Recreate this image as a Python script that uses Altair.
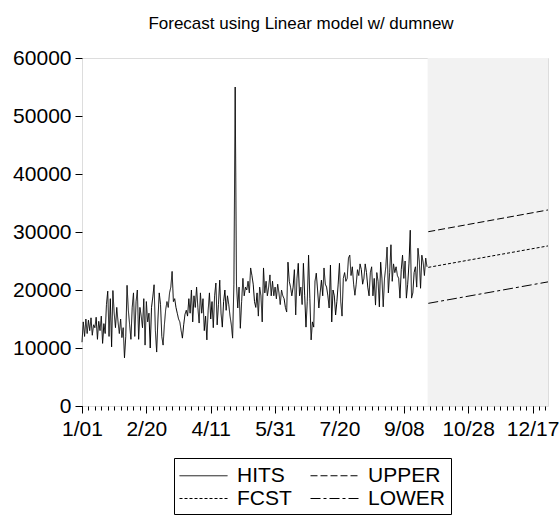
import json
import altair as alt
import pandas as pd

# ---- data ----
hits = [
    11000, 14500, 12000, 15000, 12500, 14800, 13000, 15200, 12200, 14000,
    13500, 15300, 11500, 14600, 13000, 15500, 10800, 14200, 12500, 17500,
    19800, 12000, 18500, 10200, 19900, 16000, 13500, 17000, 14500, 12500,
    15000, 11800, 13500, 8300, 12000, 20800, 16500, 14000, 11500, 17000,
    19500, 12000, 18000, 20000, 11500, 17000, 15500, 13500, 18500, 10500,
    18000, 14500, 16000, 10000, 17000, 18800, 20900, 13000, 9300, 15000,
    19500, 17500, 12000, 10500, 14000, 16600, 18000, 17000, 19500, 20500,
    23200, 18000, 18500, 17000, 16000, 15000, 14500, 13000, 11700, 14000,
    15800, 16500, 15500, 18500, 16000, 20000, 14500, 19000, 17000, 20500,
    17000, 14300, 19500, 16000, 18500, 13000, 15500, 11400, 16500, 19500,
    15000, 18000, 13500, 19000, 21200, 14000, 17500, 21700, 16000, 13600,
    18000, 20000, 16500, 19000, 17500, 15500, 14000, 11700, 21000, 55000,
    21000, 16900, 20500, 13400, 18000, 22000, 19000, 20500, 20000, 21500,
    19500, 23800, 22500, 21000, 18000, 17000, 19500, 15500, 20500, 19000,
    14500, 23800, 19500, 21500, 19000, 20500, 22600, 19000, 21500, 19000,
    20500, 18500, 21000, 19500, 17500, 20000, 19000, 18500, 17000, 16200,
    24800, 21500, 20500, 19000, 20500, 23500, 15700, 22000, 24600, 19000,
    20500, 17500, 24600, 19000, 13600, 18000, 26000, 18500, 11400, 14500,
    13600, 21500, 22900, 20000, 16900, 19500, 21700, 19000, 23800, 21000,
    20500, 19000, 16900, 24300, 14500, 20000, 19000, 15700, 18000, 21000,
    24600, 18000, 15500, 22000, 23000, 21500, 22000, 25500, 26000, 22500,
    24000, 21000, 19100, 21000, 23500, 22500, 24500, 23500, 21000, 22000,
    24500, 23000, 20500, 19000, 23000, 24000, 19000,
    22000, 17400, 23000, 21500, 17100, 24800, 22000, 17100, 22000, 24000,
    27400, 19500, 23000, 27800, 21500, 24500, 23000, 24000, 22500, 22000,
    18600, 23500, 26000, 22000, 25000, 18600, 21000, 24500, 30300, 18600,
    19500, 23000, 24000, 20500, 27200, 25000, 20300, 26000, 24800, 22500, 25500, 24000,
]
hit_days = list(range(len(hits)))

fc_days = [269, 362]
fcst = [23900, 27600]
upper = [30050, 33800]
lower = [17700, 21400]

shade_start = [268.5]
shade_end = [362]

x_domain = [0, 362]
major_ticks = [0, 50, 100, 150, 200, 250, 300, 350]
major_labels = ["1/01", "2/20", "4/11", "5/31", "7/20", "9/08", "10/28", "12/17"]
minor_ticks = list(range(0, 363, 5))
y_ticks = [0, 10000, 20000, 30000, 40000, 50000, 60000]

series_order = ["HITS", "FCST", "UPPER", "LOWER"]
series_dash = [[1, 0], [3, 2], [7, 3], [10, 3, 3, 3]]

# ---- tables ----
rows = [{"day": d, "value": v, "series": "HITS"} for d, v in zip(hit_days, hits)]
for name, vals in (("FCST", fcst), ("UPPER", upper), ("LOWER", lower)):
    rows += [{"day": d, "value": v, "series": name} for d, v in zip(fc_days, vals)]
lines_df = pd.DataFrame(rows)
shade_df = pd.DataFrame({"start": shade_start, "end": shade_end})

FONT = "Liberation Sans"
xscale = alt.Scale(domain=x_domain, nice=False, zero=False)
yscale = alt.Scale(domain=[0, 60000], nice=False)

label_expr = "%s[round(datum.value / 50)]" % json.dumps(major_labels)

shade = alt.Chart(shade_df).mark_rect(color="#f2f2f2").encode(
    x=alt.X("start:Q", scale=xscale,
            axis=alt.Axis(orient="bottom", values=minor_ticks, labels=False,
                          tickSize=4, domain=False, title="", tickColor="black",
                          grid=False)),
    x2="end:Q",
)

lines = alt.Chart(lines_df).mark_line(color="black", strokeWidth=1).encode(
    x=alt.X("day:Q", scale=xscale,
            axis=alt.Axis(orient="bottom", values=major_ticks, labelExpr=label_expr,
                          tickSize=7, title="", domain=False, tickColor="black",
                          labelFont=FONT, labelFontSize=21, labelColor="black",
                          labelPadding=5, grid=False, labelFlush=False,
                          labelOverlap=False)),
    y=alt.Y("value:Q", scale=yscale,
            axis=alt.Axis(values=y_ticks, format="d", tickSize=7, title="",
                          domain=False, tickColor="black", labelFont=FONT,
                          labelFontSize=21, labelColor="black", labelPadding=4,
                          grid=False)),
    strokeDash=alt.StrokeDash(
        "series:N",
        scale=alt.Scale(domain=series_order, range=series_dash),
        legend=alt.Legend(title="", orient="none", legendX=92, legendY=400,
                          columns=2, symbolType="M-2,0H2", symbolSize=576,
                          symbolOffset=12,
                          symbolStrokeColor="black", symbolStrokeWidth=1,
                          labelFont=FONT, labelFontSize=21, labelColor="black",
                          strokeColor="black", padding=5, rowPadding=0,
                          columnPadding=16, labelOffset=21, labelLimit=200),
    ),
    detail="series:N",
)

chart = alt.layer(shade, lines).resolve_axis(x="independent").properties(
    width=466,
    height=348,
    autosize="none",
    padding={"left": 82, "top": 58, "right": 12, "bottom": 112},
    title=alt.TitleParams("Forecast using Linear model w/ dumnew", font=FONT,
                          fontSize=17, fontWeight="normal", color="black",
                          anchor="middle", dx=-14, offset=14),
).configure_view(stroke="black", strokeWidth=1).configure(background="white")

chart.save("out.html", embed_options={"renderer": "svg", "actions": False})
